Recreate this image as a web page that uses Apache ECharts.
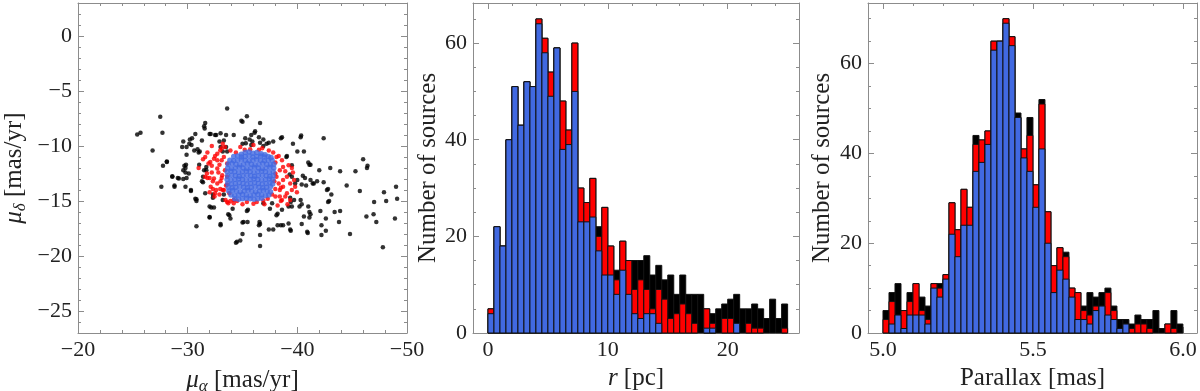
<!DOCTYPE html>
<html>
<head>
<meta charset="utf-8">
<script src="https://cdn.jsdelivr.net/npm/echarts@6/dist/echarts.min.js"></script>
<style>
html, body { margin: 0; background: #fff; }
#main { width: 1200px; height: 391px; }
</style>
</head>
<body>
<div id="main"></div>
<script>
// proper-motion scatter: [mu_alpha, mu_delta] in mas/yr
var blackPts = [
  [-25.4,-8.95],[-25.7,-8.8],[-27.5,-7.35],[-27.7,-8.8],[-26.8,-10.4],[-27.75,-11.8],[-28.1,-11.4],[-28.6,-12.8],[-28.8,-13.6],[-27.6,-13.7],
  [-29.6,-9.6],[-29.5,-10.1],[-29.1,-12.9],[-29.6,-13.0],[-29.8,-12.0],[-29.85,-11.7],[-29.9,-10.8],[-30.3,-14.1],[-30.7,-14.8],[-30.8,-15.0],
  [-30.8,-17.3],[-30.15,-9.8],[-30.4,-9.3],[-30.7,-8.9],[-31.0,-10.6],[-31.1,-10.5],[-31.05,-11.7],[-31.55,-8.4],[-31.5,-8.2],[-31.6,-7.9],
  [-32.0,-8.9],[-32.5,-9.0],[-32.0,-15.5],[-32.3,-14.7],[-32.3,-14.4],[-32.0,-16.5],[-32.4,-15.6],[-31.5,-12.2],[-31.4,-12.8],[-31.4,-13.3],
  [-31.7,-11.9],[-32.9,-9.6],[-33.0,-17.1],[-33.5,-9.0],[-33.3,-9.5],[-33.5,-10.1],[-33.6,-10.5],[-33.6,-6.6],[-33.7,-16.2],[-33.9,-16.6],
  [-33.2,-14.9],[-33.3,-14.4],[-34.5,-18.7],[-34.8,-18.6],[-34.9,-7.7],[-35.0,-7.8],[-35.4,-7.3],[-35.0,-18.0],[-35.1,-16.9],[-35.5,-15.8],
  [-35.65,-9.4],[-35.9,-9.6],[-36.1,-8.8],[-36.15,-8.65],[-36.5,-9.2],[-36.6,-7.9],[-36.6,-9.7],[-36.9,-9.4],[-36.6,-17.1],[-36.55,-16.9],
  [-36.6,-18.1],[-36.6,-19.1],[-36.9,-10.0],[-37.2,-9.8],[-37.4,-9.7],[-37.5,-15.7],[-37.7,-15.2],[-37.4,-17.6],[-37.8,-17.6],[-38.1,-16.3],
  [-38.2,-16.15],[-38.2,-17.2],[-38.5,-9.3],[-38.7,-17.2],[-39.4,-17.7],[-39.0,-11.0],[-39.3,-12.6],[-39.6,-9.8],[-39.5,-12.8],[-39.7,-14.9],
  [-39.4,-15.1],[-39.5,-15.5],[-40.0,-13.1],[-40.0,-10.5],[-40.3,-9.2],[-40.35,-9.05],[-40.5,-12.7],[-40.4,-13.5],[-40.3,-14.9],[-40.4,-15.3],
  [-40.6,-16.4],[-40.6,-10.5],[-40.8,-13.6],[-41.0,-11.5],[-41.1,-11.7],[-40.9,-17.8],[-41.0,-15.5],[-41.1,-16.0],[-41.2,-13.1],[-41.5,-13.4],
  [-42.0,-12.2],[-42.1,-15.9],[-42.2,-17.2],[-42.4,-9.3],[-42.4,-13.3],[-42.2,-18.1],[-42.6,-17.7],[-42.6,-16.6],[-42.8,-13.9],[-42.9,-15.0],
  [-43.0,-12.0],[-43.1,-14.4],[-43.4,-16.0],[-43.9,-15.9],[-43.8,-16.9],[-43.9,-12.3],[-44.5,-13.6],[-44.8,-18.0],[-45.3,-12.3],[-45.7,-14.1],
  [-46.0,-11.2],[-46.35,-12.0],[-46.4,-11.8],[-46.3,-16.4],[-47.0,-15.1],[-46.95,-16.2],[-47.2,-16.9],[-47.8,-19.2],[-47.9,-14.2],[-48.1,-15.0],
  [-48.9,-16.6],[-49.0,-13.7],[-49.1,-14.8],
  [-34.2,-9.0],[-35.8,-9.0],[-35.25,-9.3],[-35.0,-9.8],[-35.3,-9.75],[-35.8,-9.9],[-37.8,-9.6],[-38.6,-9.2],[-39.05,-10.9],[-39.5,-11.75],
  [-40.7,-12.9],[-39.8,-13.4],[-41.8,-13.2],[-39.35,-14.7],[-39.2,-15.5],[-40.2,-15.5],[-38.6,-15.8],[-36.9,-15.2],[-35.4,-15.9],[-34.1,-15.7],
  [-35.46,-16.9],[-35.0,-16.95],[-36.5,-17.2],[-38.5,-17.2],[-34.4,-18.8],[-39.2,-17.05],[-39.35,-17.6],[-40.4,-17.1],[-41.1,-16.5],[-40.95,-17.9],
  [-33.0,-10.1],[-33.2,-10.5],[-30.2,-9.4],[-30.35,-9.9],[-29.9,-10.1],[-30.6,-10.4],[-30.9,-10.3],[-31.3,-9.5],[-32.1,-8.9],[-32.6,-9.0],
  [-33.0,-8.85],[-28.1,-11.45],[-29.7,-11.8],[-29.6,-12.2],[-29.8,-12.4],[-30.1,-12.5],[-28.6,-12.75],[-29.2,-12.95],[-29.9,-12.9],[-28.8,-13.7],
  [-29.8,-13.7],[-30.3,-14.0],[-31.7,-12.2],[-31.3,-13.2],[-31.6,-14.3],[-30.8,-14.85],[-32.15,-15.6],[-32.0,-16.45],[-33.0,-17.2],[-33.8,-16.3],
  [-42.7,-14.0],[-42.8,-15.1],[-41.4,-13.4],[-41.2,-16.2],[-41.2,-11.7]
];
var redPts = [
  [-31.8,-10.6],[-32.06,-11.45],[-32.4,-11.15],[-32.7,-10.7],[-32.97,-10.4],[-33.2,-9.8],[-32.7,-12.05],[-32.2,-12.4],[-32.0,-12.9],[-31.6,-12.8],
  [-32.4,-12.96],[-32.7,-13.4],[-32.97,-13.9],[-32.3,-13.9],[-32.45,-14.6],[-32.9,-14.4],[-33.3,-14.0],[-33.6,-12.8],[-33.7,-15.2],[-33.1,-10.2],
  [-33.4,-10.1],[-33.3,-11.0],[-33.6,-11.6],[-32.7,-11.3],[-33.15,-12.66],[-32.3,-13.2],[-31.76,-12.5],[-33.6,-13.5],[-33.8,-14.3],[-33.45,-14.9],
  [-33.1,-11.3],[-33.4,-12.2],[-33.1,-12.9],[-33.5,-13.6],[-33.2,-14.0],[-34.2,-14.9],[-33.6,-15.1],[-34.5,-15.0],[-33.9,-10.4],[-34.8,-10.1],
  [-35.7,-10.3],[-36.0,-9.9],[-36.8,-10.2],[-37.4,-10.4],[-37.8,-10.6],[-35.4,-15.1],[-36.3,-15.1],[-36.9,-14.95],[-36.0,-15.25],
  [-38.1,-11.0],[-38.6,-11.3],[-38.7,-11.9],[-38.4,-12.2],[-38.1,-12.8],[-38.3,-13.4],[-37.99,-13.9],[-38.4,-14.0],[-38.7,-13.7],[-39.05,-14.3],
  [-39.5,-14.0],[-39.8,-13.7],[-38.7,-13.1],[-39.35,-13.4],[-39.05,-12.8],[-38.4,-14.6],[-38.9,-14.6],[-38.6,-14.9],[-39.7,-13.1],[-39.2,-11.75],
  [-39.6,-12.4],[-39.96,-14.2],[-38.0,-14.6],[-39.35,-14.9],[-38.0,-12.5],[-37.9,-13.2],[-37.7,-14.4],[-37.3,-14.8],[-37.0,-15.3],[-35.0,-15.3],
  [-34.2,-15.2],[-38.0,-11.5],[-38.3,-10.9],[-35.2,-10.35],[-34.4,-10.6],[-36.5,-10.35],[-31.0,-12.0],[-31.4,-11.2],[-31.6,-11.0],[-31.8,-12.9],
  [-32.1,-13.7],[-32.5,-14.3],[-32.2,-11.8],[-31.9,-11.6],[-32.5,-10.9],[-32.9,-11.7],[-32.8,-12.4],[-33.0,-13.2],[-32.6,-14.0],[-32.0,-14.2],
  [-33.9,-15.0],[-38.5,-15.0],[-39.1,-15.3],[-38.2,-15.4],[-39.5,-12.0],[-38.9,-12.3],[-38.5,-13.8],[-32.2,-10.0]
];
var bluePts = [
  [-34.9,-10.75],[-35.25,-10.6],[-35.6,-10.55],[-35.95,-10.65],[-36.3,-10.6],[-36.7,-10.7],[-37.05,-10.8],
  [-34.2,-10.95],[-34.55,-10.9],[-34.9,-11.0],[-35.25,-10.95],[-35.6,-10.9],[-35.95,-11.0],[-36.3,-10.95],[-36.65,-10.9],[-37.0,-11.0],[-37.35,-10.95],[-37.6,-11.05],
  [-33.85,-11.3],[-34.2,-11.35],[-34.55,-11.3],[-34.9,-11.25],[-35.25,-11.3],[-35.6,-11.35],[-35.95,-11.3],[-36.3,-11.25],[-36.65,-11.3],[-37.0,-11.35],[-37.35,-11.3],[-37.7,-11.3],
  [-33.7,-11.65],[-34.05,-11.6],[-34.4,-11.65],[-34.75,-11.7],[-35.1,-11.65],[-35.45,-11.6],[-35.8,-11.65],[-36.15,-11.7],[-36.5,-11.65],[-36.85,-11.6],[-37.2,-11.65],[-37.55,-11.7],[-37.85,-11.65],
  [-33.65,-12.0],[-34.0,-12.05],[-34.35,-12.0],[-34.7,-11.95],[-35.05,-12.0],[-35.4,-12.05],[-35.75,-12.0],[-36.1,-11.95],[-36.45,-12.0],[-36.8,-12.05],[-37.15,-12.0],[-37.5,-11.95],[-37.85,-12.0],
  [-33.6,-12.35],[-33.95,-12.3],[-34.3,-12.35],[-34.65,-12.4],[-35.0,-12.35],[-35.35,-12.3],[-35.7,-12.35],[-36.05,-12.4],[-36.4,-12.35],[-36.75,-12.3],[-37.1,-12.35],[-37.45,-12.4],[-37.8,-12.35],
  [-33.65,-12.7],[-34.0,-12.65],[-34.35,-12.7],[-34.7,-12.75],[-35.05,-12.7],[-35.4,-12.65],[-35.75,-12.7],[-36.1,-12.75],[-36.45,-12.7],[-36.8,-12.65],[-37.15,-12.7],[-37.5,-12.75],[-37.8,-12.7],
  [-33.6,-13.05],[-33.95,-13.1],[-34.3,-13.05],[-34.65,-13.0],[-35.0,-13.05],[-35.35,-13.1],[-35.7,-13.05],[-36.05,-13.0],[-36.4,-13.05],[-36.75,-13.1],[-37.1,-13.05],[-37.45,-13.0],[-37.75,-13.05],
  [-33.65,-13.4],[-34.0,-13.45],[-34.35,-13.4],[-34.7,-13.35],[-35.05,-13.4],[-35.4,-13.45],[-35.75,-13.4],[-36.1,-13.35],[-36.45,-13.4],[-36.8,-13.45],[-37.15,-13.4],[-37.5,-13.35],[-37.75,-13.45],
  [-33.7,-13.75],[-34.05,-13.8],[-34.4,-13.75],[-34.75,-13.7],[-35.1,-13.75],[-35.45,-13.8],[-35.8,-13.75],[-36.15,-13.7],[-36.5,-13.75],[-36.85,-13.8],[-37.2,-13.75],[-37.55,-13.7],
  [-33.75,-14.1],[-34.1,-14.05],[-34.45,-14.1],[-34.8,-14.15],[-35.15,-14.1],[-35.5,-14.05],[-35.85,-14.1],[-36.2,-14.15],[-36.55,-14.1],[-36.9,-14.05],[-37.25,-14.1],[-37.55,-14.15],
  [-33.95,-14.45],[-34.3,-14.5],[-34.65,-14.45],[-35.0,-14.4],[-35.35,-14.45],[-35.7,-14.5],[-36.05,-14.45],[-36.4,-14.4],[-36.75,-14.45],[-37.1,-14.5],[-37.4,-14.45],
  [-34.3,-14.8],[-34.65,-14.85],[-35.0,-14.8],[-35.35,-14.75],[-35.7,-14.8],[-36.05,-14.85],[-36.4,-14.8],[-36.75,-14.75]
];

// histogram of r [pc]: 50 bins of 0.5 pc from 0
var rStart = 0, rWidth = 0.5;
var rAll  = [5,22,18,40,51,43,52,51,65,61,54,59,48,42,60,30,27,32,22,26,18,13,19,15,15,15,16,12,14,11,12,8,12,8,8,8,5,4,5,6,7,8,5,5,6,5,3,7,3,6];
var rRed  = [5,22,18,40,51,43,52,51,65,61,54,59,48,42,60,30,27,32,20,26,18,11,19,15,9,11,9,5,9,7,3,4,6,4,2,0,5,2,0,3,3,2,0,2,1,1,0,0,0,1];
var rBlue = [4,22,18,40,51,43,52,51,64,58,49,59,38,39,50,23,23,24,17,12,12,8,13,8,4,3,4,4,2,0,0,0,0,0,0,0,1,1,0,0,0,2,0,0,0,0,0,0,0,0];

// histogram of parallax [mas]: 50 bins of 0.02 mas from 5.0
var pStart = 5.0, pWidth = 0.02;
var pAll  = [5,9,11,5,9,11,8,6,11,11,13,29,23,32,28,44,43,45,65,65,70,66,49,41,48,33,52,27,15,19,18,10,9,6,9,8,9,10,6,3,3,2,4,3,3,5,1,2,5,2];
var pRed  = [3,7,4,5,7,11,5,3,11,10,13,29,23,32,28,42,43,45,65,65,70,66,48,41,44,33,51,27,15,19,17,10,9,5,4,6,6,9,5,1,2,1,2,2,1,0,0,2,1,0];
var pBlue = [0,2,4,1,4,4,4,2,10,8,12,22,17,24,24,36,38,42,63,65,69,64,48,39,36,28,41,20,9,14,12,8,3,3,2,5,6,4,3,1,2,0,0,0,0,0,0,0,0,0];

// tick labels
var p1XMajor = [-50, -40, -30, -20];
var p1YMajor = [-25, -20, -15, -10, -5, 0];
var p2XMajor = [0, 10, 20];
var p2YMajor = [0, 20, 40, 60];
var p3XMajor = [5.0, 5.5, 6.0];
var p3YMajor = [0, 20, 40, 60];

function steps(a, b, d) {
  var out = [];
  for (var i = 0; a + i * d <= b + 1e-9; i++) out.push(+(a + i * d).toFixed(4));
  return out;
}

var FONT = 'Liberation Serif';
var TXT = '#222';
var FRAME = '#8c8c8c';
var titleStyle = {
  fontFamily: FONT, fontSize: 25, color: TXT,
  rich: {
    i: { fontFamily: FONT, fontStyle: 'italic', fontSize: 25, color: TXT },
    s: { fontFamily: FONT, fontStyle: 'italic', fontSize: 17, color: TXT, padding: [12, 0, 0, 0] }
  }
};

function minus(v) { return String(v).replace('-', '\u2212'); }

function axesFor(dim, grid, min, max, majors, minors, fmt, inverse, name, gap) {
  var pos = dim === 'x' ? ['bottom', 'top'] : ['left', 'right'];
  var list = [];
  pos.forEach(function (p, k) {
    list.push({
      type: 'value', gridIndex: grid, position: p, min: min, max: max, inverse: inverse,
      axisLine: { show: true, onZero: false, lineStyle: { color: FRAME, width: 1 } },
      axisTick: { inside: true, length: 6, customValues: majors, lineStyle: { color: FRAME } },
      axisLabel: k === 0 ? { customValues: majors, formatter: fmt, margin: 6,
        fontFamily: FONT, fontSize: 22, color: TXT } : { show: false },
      splitLine: { show: false },
      name: k === 0 ? name : '', nameLocation: 'middle', nameGap: gap,
      nameRotate: dim === 'y' ? 90 : 0, nameTextStyle: titleStyle
    });
    list.push({
      type: 'value', gridIndex: grid, position: p, min: min, max: max, inverse: inverse,
      axisLine: { show: false, onZero: false },
      axisTick: { inside: true, length: 3, customValues: minors, lineStyle: { color: FRAME } },
      axisLabel: { show: false }, splitLine: { show: false }
    });
  });
  return list;
}

var xAxes = [].concat(
  axesFor('x', 0, -50, -20, p1XMajor, steps(-50, -20, 2), minus, true, '{i|μ}{s|α} [mas/yr]', 33),
  axesFor('x', 1, -1.25, 25.95, p2XMajor, steps(0, 24, 2), null, false, '{i|r} [pc]', 33),
  axesFor('x', 2, 4.95, 6.047, p3XMajor, steps(5.0, 6.0, 0.1), function (v) { return v.toFixed(1); }, false, 'Parallax [mas]', 33)
);
var yAxes = [].concat(
  axesFor('y', 0, -27, 3, p1YMajor, steps(-27, 3, 1), minus, false, '{i|μ}{s|δ} [mas/yr]', 49),
  axesFor('y', 1, 0, 68.3, p2YMajor, steps(0, 65, 5), null, false, 'Number of sources', 32),
  axesFor('y', 2, 0, 73.5, p3YMajor, steps(0, 70, 5), null, false, 'Number of sources', 33)
);

function histSeries(ax, start, width, levels, color) {
  return {
    type: 'custom', xAxisIndex: ax, yAxisIndex: ax,
    encode: { x: 0, y: 1 },
    data: levels.map(function (v, i) { return [start + i * width, v]; }),
    renderItem: function (params, api) {
      var x0 = api.value(0), v = api.value(1);
      if (!v) return null;
      var a = api.coord([x0, 0]), b = api.coord([x0 + width, v]);
      return {
        type: 'rect',
        shape: { x: a[0], y: b[1], width: b[0] - a[0], height: a[1] - b[1] },
        style: { fill: color, stroke: '#111', lineWidth: 1 }
      };
    }
  };
}

function dots(pts, color, size) {
  return { type: 'scatter', xAxisIndex: 0, yAxisIndex: 0, data: pts,
    symbol: 'circle', symbolSize: size, itemStyle: { color: color }, silent: true };
}

var myChart = echarts.init(document.getElementById('main'));
myChart.setOption({
  animation: false,
  backgroundColor: '#fff',
  grid: [
    { left: 78, top: 3, width: 329, height: 330, outerBoundsMode: 'none' },
    { left: 473, top: 3, width: 326, height: 330, outerBoundsMode: 'none' },
    { left: 868, top: 3, width: 329, height: 330, outerBoundsMode: 'none' }
  ],
  xAxis: xAxes,
  yAxis: yAxes,
  series: [
    dots(blackPts, '#000', 4.5),
    dots(redPts, '#ff0000', 4.5),
    dots(bluePts, '#4169e1', 5.5),
    histSeries(4, rStart, rWidth, rAll, '#000'),
    histSeries(4, rStart, rWidth, rRed, '#ff0000'),
    histSeries(4, rStart, rWidth, rBlue, '#4169e1'),
    histSeries(8, pStart, pWidth, pAll, '#000'),
    histSeries(8, pStart, pWidth, pRed, '#ff0000'),
    histSeries(8, pStart, pWidth, pBlue, '#4169e1')
  ]
});
</script>
</body>
</html>
